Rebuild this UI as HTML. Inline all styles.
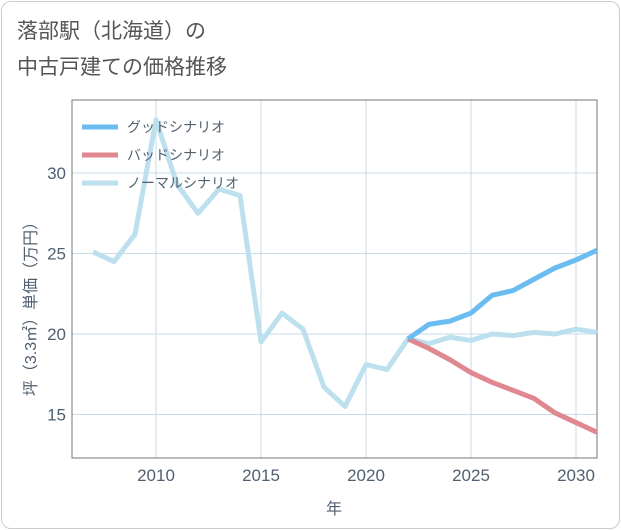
<!DOCTYPE html>
<html><head><meta charset="utf-8"><style>
body{margin:0;background:#fff;font-family:"Liberation Sans","Noto Sans CJK JP",sans-serif;}
.card{position:absolute;left:1px;top:1px;width:617px;height:526px;border:1px solid #ccc;border-radius:10px;background:#fff;}
.title{position:absolute;left:17px;top:14px;font-size:21px;color:#555;line-height:36px;}
</style></head><body>
<div class="card"></div>
<div class="title">落部駅（北海道）の<br>中古戸建ての価格推移</div>
<svg id="chart" width="621" height="530" style="position:absolute;left:0;top:0"></svg>
<script>
const years=[2007,2008,2009,2010,2011,2012,2013,2014,2015,2016,2017,2018,2019,2020,2021,2022,2023,2024,2025,2026,2027,2028,2029,2030,2031];
const normal=[25.1,24.5,26.2,33.3,29.3,27.5,29.0,28.6,19.5,21.3,20.3,16.7,15.5,18.1,17.8,19.7,19.4,19.8,19.6,20.0,19.9,20.1,20.0,20.3,20.1];
const fYears=[2022,2023,2024,2025,2026,2027,2028,2029,2030,2031];
const good=[19.7,20.6,20.8,21.3,22.4,22.7,23.4,24.1,24.6,25.2];
const bad=[19.7,19.1,18.4,17.6,17.0,16.5,16.0,15.1,14.5,13.9];
const xTicks=[2010,2015,2020,2025,2030];
const yTicks=[15,20,25,30];
const legendLabels=['グッドシナリオ','バッドシナリオ','ノーマルシナリオ'];
const colors=['#6bbcf0','#e08890','#bde0ee'];
const L=72,R=597,T=100,B=458;
const x=v=>156+(v-2010)*21;
const y=v=>334-(v-20)*16.1;
const svg=document.getElementById('chart');
const NS='http://www.w3.org/2000/svg';
function mk(t,a){const e=document.createElementNS(NS,t);for(const k in a)e.setAttribute(k,a[k]);svg.appendChild(e);return e;}
let g;
xTicks.forEach(v=>{
 const l=mk('line',{x1:x(v),x2:x(v),y1:T,y2:B,stroke:'#c8dbe6','stroke-width':1});
 
 
 const t=mk('text',{x:x(v),y:481,'text-anchor':'middle','font-size':17,fill:'#506070'});t.textContent=v;
 
 
});
yTicks.forEach(v=>{
 const l=mk('line',{x1:L,x2:R,y1:y(v),y2:y(v),stroke:'#c8dbe6','stroke-width':1});
 
 
 const t=mk('text',{x:66,y:y(v)+6,'text-anchor':'end','font-size':17,fill:'#506070'});t.textContent=v;
 
 
});
g=mk('rect',{x:L,y:T,width:R-L,height:B-T,fill:'none',stroke:'#777','stroke-width':1});


const xt=mk('text',{x:334,y:514,'text-anchor':'middle','font-size':16,fill:'#506070'});xt.textContent='年';


const yt=mk('text',{x:0,y:0,'text-anchor':'middle','font-size':16,fill:'#506070',transform:'translate(36,305) rotate(-90)'});yt.textContent='坪（3.3㎡）単価（万円）';


function line(xs,vs,c,name){
 const p=mk('polyline',{points:xs.map((a,i)=>x(a)+','+y(vs[i])).join(' '),fill:'none',stroke:c,'stroke-width':5,'stroke-linejoin':'round'});
 
 
}
line(years,normal,colors[2],'normal-scenario-line');
line(fYears,bad,colors[1],'bad-scenario-line');
line(fYears,good,colors[0],'good-scenario-line');
legendLabels.forEach((s,i)=>{
 const yy=127+i*28;
 const l=mk('line',{x1:82,x2:118,y1:yy,y2:yy,stroke:colors[i],'stroke-width':5});
 
 
 const t=mk('text',{x:127,y:yy+5,'font-size':14,fill:'#506070'});t.textContent=s;
 
 
});
</script>
</body></html>
